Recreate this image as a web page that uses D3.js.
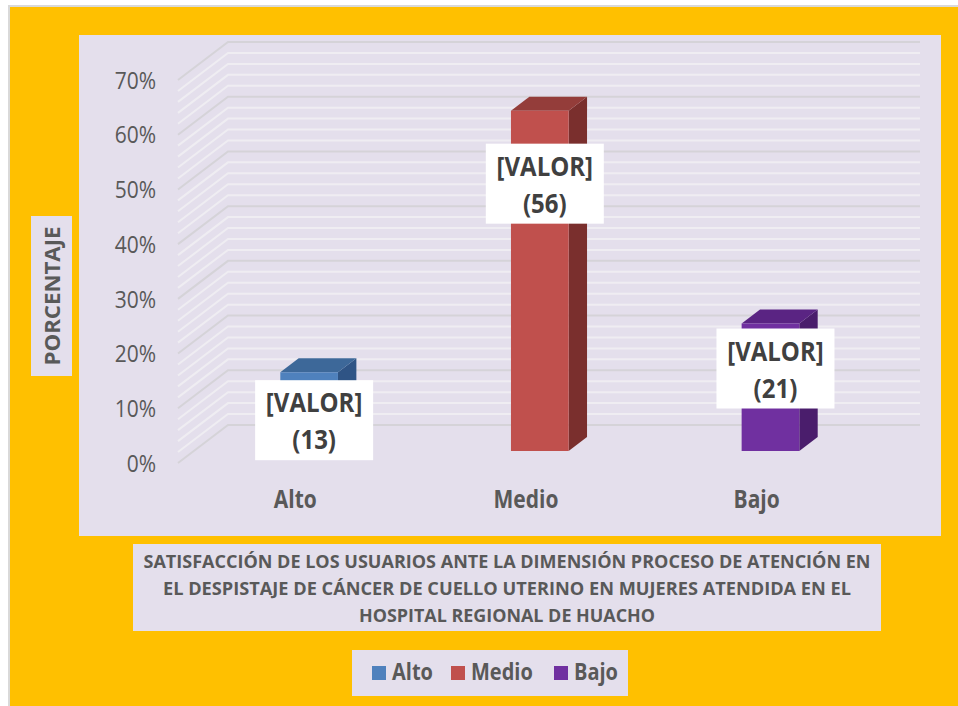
<!DOCTYPE html>
<html>
<head>
<meta charset="utf-8">
<script src="https://cdn.jsdelivr.net/npm/d3@7"></script>
<style>
  body { margin: 0; background: #fff; }
  text { font-family: "Open Sans", "Noto Sans", sans-serif; }
</style>
</head>
<body>
<svg id="chart" width="958" height="706"></svg>
<script>
'use strict';

// data
var categories = ["Alto", "Medio", "Bajo"];
var counts = [13, 56, 21];
var percents = [14.4, 62.2, 23.3];
var yTicks = [0, 10, 20, 30, 40, 50, 60, 70];
var titleLines = [
  "SATISFACCIÓN DE LOS USUARIOS ANTE LA DIMENSIÓN PROCESO DE ATENCIÓN EN",
  "EL DESPISTAJE DE CÁNCER DE CUELLO UTERINO  EN MUJERES ATENDIDA EN EL",
  "HOSPITAL REGIONAL DE HUACHO"
];

// colours (front, top, side)
var frontColors = ["#4f81bd", "#c0504d", "#7030a0"];
var topColors = ["#3d6899", "#943d3a", "#5a2483"];
var sideColors = ["#2f5485", "#7a2f2d", "#4a1d6c"];
var labelDy = [48, 73, 45];
var titleWidths = [727, 688, 296];
var stretch = 1.15;  // text in the picture is a bit taller than wide

var svg = d3.select("#chart");
var textColor = "#595959";

// helper: text placed at (tx,ty) and stretched vertically
function tallText(parent, tx, ty) {
  return parent.append("g")
    .attr("transform", "translate(" + tx + "," + ty + ") scale(1," + stretch + ")")
    .append("text");
}

// frame
svg.append("rect").attr("x", 8).attr("y", 5).attr("width", 950).attr("height", 701).attr("fill", "#d9d9d9");
svg.append("rect").attr("x", 10).attr("y", 7).attr("width", 948).attr("height", 699).attr("fill", "#ffc000");
svg.append("rect").attr("x", 79).attr("y", 35).attr("width", 862).attr("height", 501).attr("fill", "#e4dfec");

// 3d projection: front plane + depth offset
var depthX = 50, depthY = -38;
var x = d3.scaleBand().domain(categories).range([178, 870])
  .paddingInner(0.75).paddingOuter(0.375);
var xCat = d3.scaleBand().domain(categories).range([178, 870]);
var y = d3.scaleLinear().domain([0, 70]).range([463, 80]);
function P(px, v, z) { return [px + z * depthX, y(v) + z * depthY]; }

// walls gridlines
var grid = svg.append("g");
d3.range(0, 71, 2).forEach(function(v) {
  var major = v % 10 === 0;
  var a = P(178, v, 0), b = P(178, v, 1), c = P(870, v, 1);
  grid.append("path")
    .attr("d", d3.line()([a, b, c]))
    .attr("fill", "none")
    .attr("stroke", major ? "#d5d3d8" : "#efedf2")
    .attr("stroke-width", 2);
});

// y axis labels
var yAxis = svg.append("g");
yTicks.forEach(function(d) {
  tallText(yAxis, 156, y(d))
    .attr("dy", "0.36em")
    .attr("text-anchor", "end")
    .attr("font-size", 21)
    .attr("fill", textColor)
    .text(d + "%");
});

// category labels
var xAxis = svg.append("g");
categories.forEach(function(d) {
  tallText(xAxis, xCat(d) + xCat.bandwidth() / 2 + 2, 508)
    .attr("text-anchor", "middle")
    .attr("font-size", 21)
    .attr("font-weight", "bold")
    .attr("fill", textColor)
    .text(d);
});

// bars
var zf = 0.316, zb = 0.684;
var bars = svg.append("g");
categories.forEach(function(c, i) {
  var xl = x(c), xr = x(c) + x.bandwidth(), v = percents[i];
  var line = d3.line();
  bars.append("path")
    .attr("d", line([P(xr, 0, zf), P(xr, v, zf), P(xr, v, zb), P(xr, 0, zb)]) + "Z")
    .attr("fill", sideColors[i]);
  bars.append("path")
    .attr("d", line([P(xl, v, zf), P(xr, v, zf), P(xr, v, zb), P(xl, v, zb)]) + "Z")
    .attr("fill", topColors[i]);
  bars.append("path")
    .attr("d", line([P(xl, 0, zf), P(xr, 0, zf), P(xr, v, zf), P(xl, v, zf)]) + "Z")
    .attr("fill", frontColors[i]);
});

// data labels
var labels = svg.append("g");
categories.forEach(function(c, i) {
  var top = P(x(c), percents[i], zf);
  var cx = P(x(c) + x.bandwidth() / 2, 0, zf)[0] + 5;
  var cy = top[1] + labelDy[i];
  var g = labels.append("g").attr("transform", "translate(" + cx + "," + cy + ")");
  g.append("rect").attr("x", -59).attr("y", -40).attr("width", 118).attr("height", 80).attr("fill", "#fff");
  tallText(g, 0, -8).attr("text-anchor", "middle")
    .attr("font-size", 24).attr("font-weight", "bold").attr("fill", "#404040")
    .text("[VALOR]");
  tallText(g, 0, 29).attr("text-anchor", "middle")
    .attr("font-size", 24).attr("font-weight", "bold").attr("fill", "#404040")
    .text("(" + counts[i] + ")");
});

// y axis title
svg.append("rect").attr("x", 31).attr("y", 216).attr("width", 41).attr("height", 160).attr("fill", "#e4dfec");
svg.append("text")
  .attr("transform", "translate(60,296) rotate(-90)")
  .attr("text-anchor", "middle")
  .attr("font-size", 21).attr("font-weight", "bold")
  .attr("fill", textColor)
  .attr("textLength", 139)
  .attr("lengthAdjust", "spacingAndGlyphs")
  .text("PORCENTAJE");

// chart title
svg.append("rect").attr("x", 133).attr("y", 544).attr("width", 748).attr("height", 87).attr("fill", "#e4dfec");
svg.append("g").selectAll("text").data(titleLines).enter().append("text")
  .attr("x", 507)
  .attr("y", function(d, i) { return 568 + i * 27; })
  .attr("text-anchor", "middle")
  .attr("font-size", 18).attr("font-weight", "bold")
  .attr("fill", textColor)
  .attr("textLength", function(d, i) { return titleWidths[i]; })
  .attr("lengthAdjust", "spacingAndGlyphs")
  .text(function(d) { return d; });

// legend
svg.append("rect").attr("x", 352).attr("y", 650).attr("width", 276).attr("height", 46).attr("fill", "#e4dfec");
var legendX = [372, 451, 554];
var legend = svg.append("g");
categories.forEach(function(d, i) {
  legend.append("rect").attr("x", legendX[i]).attr("y", 666)
    .attr("width", 14).attr("height", 14)
    .attr("fill", frontColors[i]);
  tallText(legend, legendX[i] + 20, 680)
    .attr("font-size", 20).attr("font-weight", "bold")
    .attr("fill", textColor)
    .text(d);
});
</script>
</body>
</html>
